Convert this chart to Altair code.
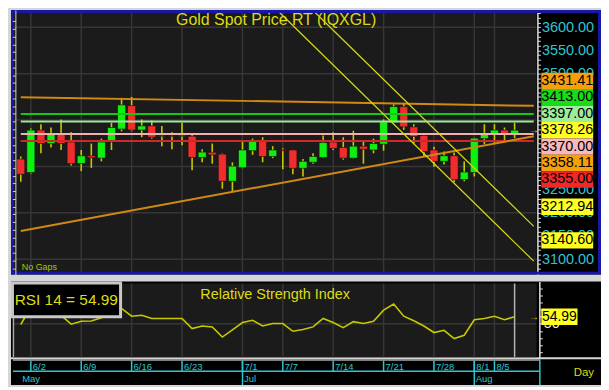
import altair as alt
import pandas as pd

# ---------------- data ----------------
dates = ["5/30", "6/2", "6/3", "6/4", "6/5", "6/6",
         "6/9", "6/10", "6/11", "6/12", "6/13",
         "6/16", "6/17", "6/18", "6/19", "6/20",
         "6/23", "6/24", "6/25", "6/26", "6/27",
         "6/30", "7/1", "7/2", "7/3", "7/4",
         "7/7", "7/8", "7/9", "7/10", "7/11",
         "7/14", "7/15", "7/16", "7/17", "7/18",
         "7/21", "7/22", "7/23", "7/24", "7/25",
         "7/28", "7/29", "7/30", "7/31", "8/1",
         "8/4", "8/5", "8/6", "8/7"]
opens = [3316, 3287, 3378.5, 3349.4, 3371.5, 3352.7, 3306.3, 3323, 3318, 3352.7,
         3380.6, 3431.2, 3378.5, 3387.5, 3365, 3366.7, 3365, 3365.2, 3319.4, 3330.6,
         3326.5, 3268, 3297.3, 3334, 3356.3, 3321.5, 3336, 3335.5, 3296, 3309,
         3319.4, 3352.7, 3341, 3318, 3343.75, 3335.5, 3348, 3394.4, 3429, 3385.4,
         3366.7, 3335.5, 3311, 3323, 3271.5, 3287, 3360, 3370, 3378.5, 3369]
highs = [3321.5, 3382, 3391, 3384, 3401.5, 3373.6, 3335.5, 3349.4, 3360, 3394.4,
         3448, 3450, 3401.5, 3399.4, 3387.5, 3373.6, 3394.4, 3370, 3337, 3349.4,
         3328, 3309, 3355, 3360, 3363, 3343.75, 3339, 3336, 3316, 3328.5,
         3366.7, 3373.6, 3363, 3377, 3352.7, 3360, 3401.5, 3434, 3436, 3391,
         3371.5, 3342.3, 3332, 3330, 3311, 3362, 3391, 3391, 3384, 3394.4]
lows = [3267, 3285, 3328.5, 3341, 3335.5, 3302, 3290, 3297, 3311, 3335.5,
        3375.7, 3376, 3363, 3360, 3343.75, 3337, 3345.8, 3291.7, 3309, 3306,
        3252, 3245.8, 3296, 3325, 3309, 3318, 3293.75, 3283, 3278.5, 3306,
        3318, 3335.5, 3314.6, 3317, 3306, 3328.5, 3334, 3393, 3379, 3349.4,
        3321.5, 3299.4, 3304, 3266, 3268, 3278.5, 3348, 3349.4, 3352.7, 3361]
closes = [3283, 3378.5, 3349.4, 3371.5, 3349.4, 3306, 3323, 3318.8, 3352.7, 3384,
          3432.7, 3378.5, 3387.5, 3363, 3366.7, 3365, 3367, 3319.4, 3331, 3325,
          3268, 3300.6, 3335.5, 3356.3, 3321.5, 3335.5, 3334, 3296, 3311, 3321.5,
          3351.5, 3339, 3318, 3343.75, 3337, 3349.4, 3396.5, 3429, 3385.4, 3364.6,
          3332, 3311, 3323, 3271.5, 3288, 3361, 3371.5, 3378.5, 3370, 3378.26]
rsi_values = [49.5, 62, 57.5, 60, 56, 49.7, 51.8, 52, 54.2, 57,
              60.9, 55.4, 56.1, 53.8, 53.8, 53.8, 53.8, 46.6, 48.4, 47.8,
              40.6, 45.7, 50.9, 52.5, 48.5, 50.2, 50.2, 44.7, 46, 47.8,
              53.8, 50.9, 47.3, 51.5, 50.2, 51.8, 59.7, 64, 55.4, 52.2,
              48.4, 43.8, 45.4, 39.5, 41.9, 52.9, 53.8, 55.3, 52.9, 54.99]

level_names = ["L3413", "L3397", "L3370", "L3355"]
level_values = [3413.00, 3397.00, 3370.00, 3355.00]

trend_names = ["resistance", "support", "channel_top", "channel_bottom"]
trend_start_x = [0, 0, 20, 20]
trend_start_y = [3449.5, 3161.0, 3827.8, 3752.8]
trend_end_x = [50.9, 50.9, 50.9, 50.9]
trend_end_y = [3430.7, 3365.0, 3170.8, 3095.8]

box_values = [3431.41, 3413.00, 3397.00, 3378.26, 3370.00, 3358.11, 3355.00, 3212.94, 3140.60]

price_labels = list(range(3100, 3601, 50))
price_grid = list(range(3100, 3601, 100))
date_ticks = ["6/2", "6/9", "6/16", "6/23", "7/1", "7/7", "7/14", "7/21", "7/28", "8/1", "8/5"]
month_names = ["May", "Jul", "Aug"]
month_first = ["5/30", "7/1", "8/1"]
long_ticks = ["7/1", "8/1"]
rsi_label_values = [50]

# ---------------- styles ----------------
level_colors = ["#12C812", "#9AE89A", "#F0B0B0", "#D02828"]
trend_colors = ["#D08A12", "#D08A12", "#D8D818", "#D8D818"]
trend_widths = [2, 2, 1.2, 1.2]
box_colors = ["#F5A00A", "#18DC18", "#9CEC9C", "#FFFF22", "#F8B8BC",
              "#F5A00A", "#F02828", "#FFFF22", "#FFFF22"]
YELLOW = "#DCDC14"
CYAN = "#2EC6CE"
PLOT_BG = "#1B1B1B"
GRID = "#363636"
GREEN = "#10F010"
RED = "#F02C2C"
WICK = "#C8C800"
FRAME = "#1818A8"
FONT = "Liberation Sans, Arial, sans-serif"

# ---------------- layout ----------------
W = 593
H_TOP, H_RSI, H_STRIP = 266, 76, 26
SX = W / 603.0
SY = 0.971


def px(xr):
    return (xr - 3) * SX


def py_top(yr):
    return (yr - 3) * SY


def py_rsi(yr):
    return (yr - 283) * SY


def py_strip(yr):
    return (yr - 361) * SY


BAR0, BARW = 13.0, 10.3
x_lo = (3 - BAR0) / BARW
x_hi = (3 + W / SX - BAR0) / BARW
xs = alt.Scale(domain=[x_lo, x_hi], nice=False, zero=False)

PPX = 0.48  # px per price unit (reference)
p_hi = 3600 + 18 / PPX
p_lo = 3600 - (H_TOP / SY + 3 - 21) / PPX
ys = alt.Scale(domain=[p_lo, p_hi], nice=False, zero=False)

RPX = 1.46  # px per RSI unit (reference)
r_hi = 50 + (326.7 - 283) / RPX
r_lo = 50 - (283 + H_RSI / SY - 326.7) / RPX
rs = alt.Scale(domain=[r_lo, r_hi], nice=False, zero=False)

idx = {d: k for k, d in enumerate(dates)}

df = pd.DataFrame({"i": list(range(len(dates))), "open": opens, "high": highs,
                   "low": lows, "close": closes, "rsi": rsi_values})
df["dir"] = ["up" if c >= o else "down" for o, c in zip(opens, closes)]

# label stacking around the last price (anchor stays at its value)
BOX_H = 17 / PPX
anchor = closes[-1]
order = sorted(range(len(box_values)), key=lambda k: -box_values[k])
pos = {box_values.index(anchor): anchor}
above = [k for k in order if box_values[k] > anchor][::-1]
below = [k for k in order if box_values[k] < anchor]
prev = anchor
for k in above:
    prev = max(box_values[k], prev + BOX_H)
    pos[k] = prev
prev = anchor
for k in below:
    prev = min(box_values[k], prev - BOX_H)
    pos[k] = prev
box_labels = ["%.2f" % v for v in box_values]
df_box = pd.DataFrame({"lab": box_labels, "pos": [pos[k] for k in range(len(box_values))],
                       "c": box_colors})
df_box["top"] = df_box["pos"] + BOX_H / 2
df_box["bot"] = df_box["pos"] - BOX_H / 2


def covered(v, half=9.0):
    steps = [v - half + k * (2 * half / 20) for k in range(21)]
    return all(any(b <= s <= t for b, t in zip(df_box["bot"], df_box["top"])) for s in steps)


shown_labels = [v for v in price_labels if not covered(v)]

# channel lines start where they enter the top of the price panel
tr_x0, tr_y0 = [], []
for x0, y0, x1, y1 in zip(trend_start_x, trend_start_y, trend_end_x, trend_end_y):
    if y0 > p_hi:
        slope = (y1 - y0) / (x1 - x0)
        x0 = x1 + (p_hi - y1) / slope
        y0 = p_hi
    tr_x0.append(x0)
    tr_y0.append(y0)

one = pd.DataFrame({"k": [0]})


def rect_px(x0, x1, y0, y1, **kw):
    return alt.Chart(one).mark_rect(**kw).encode(
        x=alt.value(x0), x2=alt.value(x1), y=alt.value(y0), y2=alt.value(y1))


def rule_px(x0, x1, y0, y1, **kw):
    return alt.Chart(one).mark_rule(**kw).encode(
        x=alt.value(x0), x2=alt.value(x1), y=alt.value(y0), y2=alt.value(y1))


def text_px(s, x, y, **kw):
    return alt.Chart(pd.DataFrame({"t": [s]})).mark_text(**kw).encode(
        x=alt.value(x), y=alt.value(y), text="t:N")


X = lambda f: alt.X(f, scale=xs, axis=None)
Y = lambda f: alt.Y(f, scale=ys, axis=None)
R = lambda f: alt.Y(f, scale=rs, axis=None)

df_tick = pd.DataFrame({"d": date_ticks, "i": [idx[d] for d in date_ticks]})
df_pgrid = pd.DataFrame({"p": price_grid})
df_plab = pd.DataFrame({"p": price_labels})

AX_COMMON = dict(grid=False, title=None, labelOverlap=False, labelFlush=False)

# ---------------- top panel ----------------
plot_bg = rect_px(px(5), px(541) - 0.8, py_top(5), py_top(275), color=PLOT_BG)
grid_h = alt.Chart(df_pgrid).mark_rule(color=GRID, strokeWidth=1.5).encode(
    x=alt.value(px(5)), x2=alt.value(px(541) - 1), y=Y("p:Q"))
grid_v = alt.Chart(df_tick).mark_rule(color=GRID, strokeWidth=1.5).encode(
    x=X("i:Q"), y=alt.value(py_top(5)), y2=alt.value(py_top(275)))

right_ticks = list(range(3080, 3631, 10))
axis_right_ticks = alt.Chart(df_plab).mark_point(opacity=0).encode(
    x=alt.value(0),
    y=alt.Y("p:Q", scale=ys, axis=alt.Axis(
        orient="right", offset=-(W - px(541)), values=right_ticks, labels=False,
        tickColor="#E0E0E0", tickSize=3, tickWidth=1, domainColor="#E0E0E0",
        domainWidth=1.5, **AX_COMMON)))
axis_right_labels = alt.Chart(df_plab).mark_point(opacity=0).encode(
    x=alt.value(0),
    y=alt.Y("p:Q", scale=ys, axis=alt.Axis(
        orient="right", offset=-(W - px(541)), values=shown_labels, format=".2f",
        labelColor=CYAN, labelFont=FONT, labelFontSize=14.5, labelPadding=4,
        labelBaseline="middle", ticks=False, tickSize=0, domain=False, **AX_COMMON)))
left_vals = [round(3080 + k * 50 / 3.0, 3) for k in range(0, 33)]
axis_left = alt.Chart(df_plab).mark_point(opacity=0).encode(
    x=alt.value(0),
    y=alt.Y("p:Q", scale=ys, axis=alt.Axis(
        orient="left", offset=-px(7.5), values=left_vals, labels=False,
        tickColor="#D0D0D0", tickSize=3, tickWidth=1, domainColor="#D0D0D0",
        domainWidth=1, zindex=1, **AX_COMMON)))

wicks = alt.Chart(df).mark_rule(color=WICK, strokeWidth=1.6).encode(
    x=X("i:Q"), y=Y("low:Q"), y2="high:Q")
bodies = alt.Chart(df).transform_calculate(
    x0="datum.i - 0.4", x1="datum.i + 0.4").mark_rect(
    stroke="#101010", strokeWidth=0.6).encode(
    x=X("x0:Q"), x2="x1:Q", y=Y("open:Q"), y2="close:Q",
    color=alt.Color("dir:N", scale=alt.Scale(domain=["up", "down"], range=[GREEN, RED]),
                    legend=None))

df_lev = pd.DataFrame({"k": level_names, "v": level_values, "c": level_colors})
df_lev["x0"] = 0.0
df_lev["x1"] = trend_end_x[0]
levels = alt.Chart(df_lev).mark_rule(strokeWidth=2).encode(
    x=X("x0:Q"), x2="x1:Q", y=Y("v:Q"), color=alt.Color("c:N", scale=None))

df_tr = pd.DataFrame({"k": trend_names, "x0": tr_x0, "y0": tr_y0,
                      "x1": trend_end_x, "y1": trend_end_y, "c": trend_colors,
                      "w": trend_widths})
trends = alt.Chart(df_tr).mark_rule().encode(
    x=X("x0:Q"), x2="x1:Q", y=Y("y0:Q"), y2="y1:Q",
    color=alt.Color("c:N", scale=None), strokeWidth=alt.StrokeWidth("w:Q", scale=None))

boxes = alt.Chart(df_box).mark_rect().encode(
    x=alt.value(px(545)), x2=alt.value(px(598)), y=Y("top:Q"), y2="bot:Q",
    color=alt.Color("c:N", scale=None))
box_text = alt.Chart(df_box).mark_text(
    font=FONT, fontSize=14.5, color="#000000", align="center", baseline="middle").encode(
    x=alt.value(px(571.5)), y=Y("pos:Q"), text="lab:N")

arrow = alt.Chart(pd.DataFrame({"p": [closes[-1]], "t": ["\u2192"]})).mark_text(
    fontSize=10, color=YELLOW, align="center", baseline="middle").encode(
    x=alt.value(px(537.5)), y=Y("p:Q"), text="t:N")

title_top = text_px("Gold Spot Price RT (IQXGL)", px(274), py_top(13.5),
                    font=FONT, fontSize=16, color=YELLOW, align="center",
                    baseline="middle")
nogaps = text_px("No Gaps", px(14), py_top(269.5), font=FONT, fontSize=9,
                 color="#A8C40C", align="left", baseline="middle")
frame = rect_px(1.5, W - 1.5, 1.5, H_TOP - 1.5, fillOpacity=0, stroke=FRAME, strokeWidth=3)

top = alt.layer(
    plot_bg, grid_h, grid_v, axis_left, axis_right_ticks, axis_right_labels, wicks,
    bodies, levels, trends, boxes, box_text, arrow, title_top, nogaps, frame
).resolve_axis(y="independent").properties(
    width=W, height=H_TOP,
    view=alt.ViewBackground(fill="#000000", strokeWidth=0))

# ---------------- RSI panel ----------------
rsi_bg = rect_px(px(5), px(541) - 0.8, py_rsi(285), H_RSI, color=PLOT_BG)
rsi_gv = alt.Chart(df_tick).mark_rule(color=GRID, strokeWidth=1.5).encode(
    x=X("i:Q"), y=alt.value(py_rsi(285)), y2=alt.value(H_RSI))
rsi_gh = alt.Chart(pd.DataFrame({"r": [50]})).mark_rule(color=GRID, strokeWidth=1.5).encode(
    x=alt.value(px(5)), x2=alt.value(px(541) - 1), y=R("r:Q"))
rsi_left = rule_px(px(5.5), px(5.5), py_rsi(285), H_RSI, color="#A8A8A8", strokeWidth=1.5)
df_r = pd.DataFrame({"r": rsi_label_values})
rsi_axis_ticks = alt.Chart(df_r).mark_point(opacity=0).encode(
    x=alt.value(0),
    y=alt.Y("r:Q", scale=rs, axis=alt.Axis(
        orient="right", offset=-(W - px(543)), values=list(range(30, 80, 5)),
        labels=False, tickColor="#E0E0E0", tickSize=3, domainColor="#E0E0E0",
        domainWidth=1.5, **AX_COMMON)))
rsi_axis_labels = alt.Chart(df_r).mark_point(opacity=0).encode(
    x=alt.value(0),
    y=alt.Y("r:Q", scale=rs, axis=alt.Axis(
        orient="right", offset=-(W - px(543)), values=rsi_label_values,
        labelColor="#F0F0F0", labelFont=FONT, labelFontSize=14.5, labelPadding=4,
        labelBaseline="middle", ticks=False, tickSize=0, domain=False, **AX_COMMON)))
cursor = alt.Chart(df.tail(1)).mark_rule(color="#B4B4B4", strokeWidth=1.5).encode(
    x=X("i:Q"), y=alt.value(py_rsi(285)), y2=alt.value(H_RSI))
rsi_line = alt.Chart(df).mark_line(color=WICK, strokeWidth=1.6).encode(
    x=X("i:Q"), y=R("rsi:Q"))
rsi_title = text_px("Relative Strength Index", px(273), py_rsi(296.5), font=FONT,
                    fontSize=14.5, color=YELLOW, align="center", baseline="middle")
rsi_box = rect_px(px(4.5), px(115), py_rsi(284.5), py_rsi(319.5), fill="#000000",
                  stroke="#C8C8C8", strokeWidth=3)
rsi_box_text = text_px("RSI 14 = %.2f" % rsi_values[-1], px(59.5), py_rsi(302),
                       font=FONT, fontSize=15.5, color=YELLOW, align="center",
                       baseline="middle")
RBOX = 8.5 / RPX
df_rlab = pd.DataFrame({"r": [rsi_values[-1]], "t": ["%.2f" % rsi_values[-1]],
                        "a": ["\u2192"]})
df_rlab["top"] = df_rlab["r"] + RBOX
df_rlab["bot"] = df_rlab["r"] - RBOX
rsi_lab_box = alt.Chart(df_rlab).mark_rect(color="#FFFF22").encode(
    x=alt.value(px(545)), x2=alt.value(px(582)), y=R("top:Q"), y2="bot:Q")
rsi_lab_text = alt.Chart(df_rlab).mark_text(
    font=FONT, fontSize=14, color="#000000", align="center", baseline="middle").encode(
    x=alt.value(px(563.5)), y=R("r:Q"), text="t:N")
rsi_arrow = alt.Chart(df_rlab).mark_text(
    fontSize=10, color=YELLOW, align="center", baseline="middle").encode(
    x=alt.value(px(537.5)), y=R("r:Q"), text="a:N")

rsi_panel = alt.layer(
    rsi_bg, rsi_gv, rsi_gh, rsi_left, rsi_axis_ticks, rsi_axis_labels, cursor, rsi_line,
    rsi_title, rsi_box, rsi_box_text, rsi_lab_box, rsi_lab_text, rsi_arrow
).resolve_axis(y="independent").properties(
    width=W, height=H_RSI, view=alt.ViewBackground(fill="#000000", strokeWidth=0))

# ---------------- date strip ----------------
strip_top = rule_px(px(5), px(543), 0.75, 0.75, color="#A8A8A8", strokeWidth=1.5)
cyan_h = rule_px(px(5), px(543.5), py_strip(373.5), py_strip(373.5), color=CYAN, strokeWidth=1.5)
cyan_v = rule_px(px(543.5), px(543.5), 0, H_STRIP, color=CYAN, strokeWidth=1.5)
short_ticks = alt.Chart(df_tick).mark_rule(color=CYAN, strokeWidth=1.5).encode(
    x=X("i:Q"), y=alt.value(1.5), y2=alt.value(py_strip(373.5)))
df_long = pd.DataFrame({"i": [idx[d] for d in long_ticks]})
tall_ticks = alt.Chart(df_long).mark_rule(color=CYAN, strokeWidth=1.5).encode(
    x=X("i:Q"), y=alt.value(1.5), y2=alt.value(H_STRIP))
date_text = alt.Chart(df_tick).mark_text(
    font=FONT, fontSize=9.5, color=CYAN, align="left", baseline="alphabetic", dx=2).encode(
    x=X("i:Q"), y=alt.value(py_strip(372.5)), text="d:N")
df_month = pd.DataFrame({"m": month_names, "i": [idx[d] for d in month_first]})
month_text = alt.Chart(df_month).mark_text(
    font=FONT, fontSize=9.5, color=CYAN, align="left", baseline="alphabetic", dx=1.5).encode(
    x=X("i:Q"), y=alt.value(py_strip(385)), text="m:N")
day_text = text_px("Day", px(588.5), py_strip(375.5), font=FONT, fontSize=11.5,
                   color=YELLOW, align="center", baseline="middle")

strip = alt.layer(
    strip_top, cyan_h, cyan_v, short_ticks, tall_ticks, date_text, month_text, day_text
).properties(width=W, height=H_STRIP,
             view=alt.ViewBackground(fill="#000000", strokeWidth=0))

chart = alt.vconcat(
    top, alt.vconcat(rsi_panel, strip, spacing=0), spacing=6
).properties(background="#D6D6D6", padding=0).configure_view(strokeWidth=0)

chart.save("out.html", embed_options={"renderer": "svg", "actions": False})
